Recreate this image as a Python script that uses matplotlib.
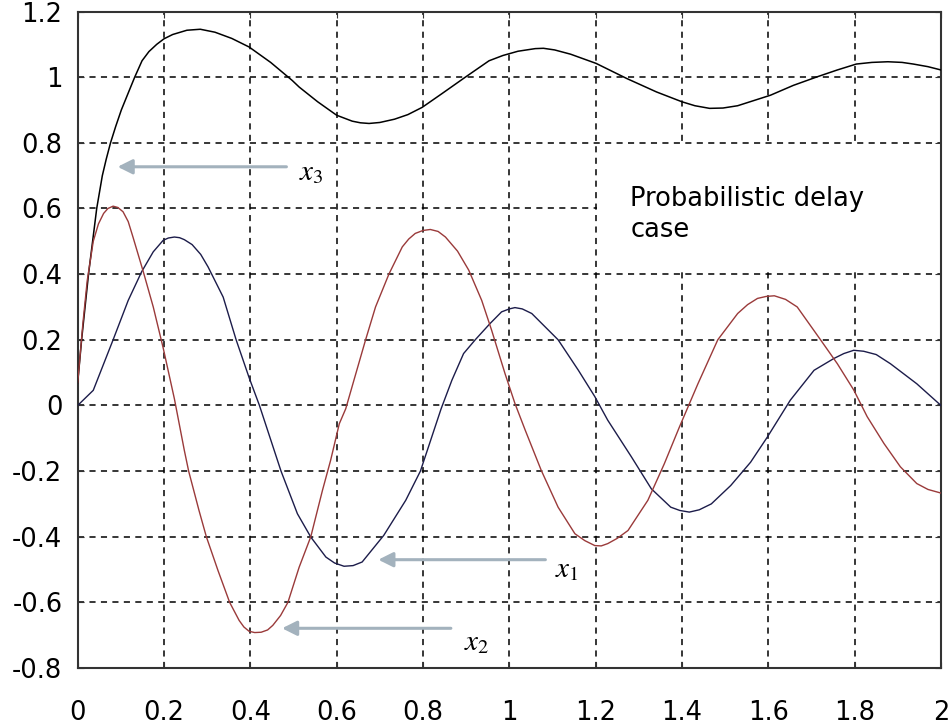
import numpy as np
import matplotlib
matplotlib.use("Agg")
import matplotlib.pyplot as plt
from matplotlib.patches import Rectangle

plt.rcParams['font.family'] = ['DejaVu Sans']
plt.rcParams['mathtext.fontset'] = 'stix'

# x3 (black)
x3_t = [0.0, 0.009, 0.025, 0.044, 0.057, 0.066, 0.076, 0.088, 0.101, 0.118, 0.132,
        0.149, 0.165, 0.183, 0.200, 0.220, 0.253, 0.284, 0.318, 0.357, 0.397, 0.447,
        0.497, 0.513, 0.556, 0.600, 0.636, 0.655, 0.675, 0.700, 0.734, 0.765, 0.798,
        0.844, 0.898, 0.953, 0.985, 1.020, 1.060, 1.079, 1.105, 1.142, 1.201, 1.272,
        1.341, 1.400, 1.430, 1.464, 1.495, 1.529, 1.605, 1.658, 1.713, 1.760, 1.804,
        1.840, 1.877, 1.910, 1.936, 1.970, 2.0]
x3_v = [0.07, 0.2, 0.40, 0.60, 0.70, 0.75, 0.80, 0.85, 0.90, 0.955, 1.0,
        1.05, 1.078, 1.10, 1.117, 1.13, 1.143, 1.146, 1.137, 1.118, 1.092, 1.045,
        0.99, 0.97, 0.925, 0.884, 0.866, 0.861, 0.859, 0.862, 0.872, 0.886, 0.908,
        0.95, 1.0, 1.05, 1.066, 1.079, 1.087, 1.088, 1.083, 1.07, 1.042, 0.996,
        0.955, 0.925, 0.913, 0.905, 0.906, 0.913, 0.945, 0.975, 1.001, 1.022, 1.04,
        1.045, 1.047, 1.045, 1.04, 1.032, 1.022]

# x1 (navy)
x1_t = [0.0, 0.036, 0.082, 0.117, 0.148, 0.175, 0.198, 0.210, 0.224, 0.236, 0.247,
        0.265, 0.285, 0.302, 0.337, 0.367, 0.397, 0.421, 0.471, 0.509, 0.540, 0.575,
        0.595, 0.617, 0.638, 0.659, 0.709, 0.760, 0.794, 0.842, 0.867, 0.894, 0.921,
        0.955, 0.982, 1.000, 1.013, 1.030, 1.052, 1.113, 1.160, 1.198, 1.228, 1.283,
        1.329, 1.374, 1.395, 1.417, 1.440, 1.468, 1.513, 1.559, 1.598, 1.651, 1.706,
        1.752, 1.775, 1.798, 1.821, 1.850, 1.883, 1.944, 2.0]
x1_v = [0.0, 0.046, 0.2, 0.32, 0.407, 0.468, 0.503, 0.510, 0.513, 0.511, 0.505,
        0.49, 0.46, 0.422, 0.33, 0.2, 0.085, 0.0, -0.2, -0.33, -0.401, -0.462,
        -0.48, -0.49, -0.488, -0.477, -0.396, -0.289, -0.2, -0.01, 0.077, 0.158, 0.2,
        0.249, 0.285, 0.294, 0.298, 0.294, 0.28, 0.2, 0.107, 0.027, -0.045, -0.157,
        -0.254, -0.31, -0.32, -0.325, -0.318, -0.3, -0.244, -0.173, -0.096, 0.016, 0.107,
        0.143, 0.158, 0.168, 0.165, 0.155, 0.127, 0.066, 0.0]

# x2 (red)
x2_t = [0.0, 0.012, 0.022, 0.036, 0.048, 0.060, 0.070, 0.082, 0.093, 0.105, 0.117,
        0.128, 0.152, 0.175, 0.198, 0.224, 0.247, 0.257, 0.281, 0.298, 0.325, 0.352,
        0.374, 0.385, 0.397, 0.410, 0.425, 0.440, 0.452, 0.470, 0.487, 0.513, 0.540,
        0.567, 0.586, 0.606, 0.621, 0.640, 0.667, 0.690, 0.721, 0.752, 0.767, 0.782,
        0.800, 0.817, 0.835, 0.852, 0.880, 0.906, 0.936, 0.959, 0.990, 1.013, 1.037,
        1.074, 1.113, 1.152, 1.175, 1.198, 1.213, 1.228, 1.250, 1.275, 1.321, 1.359,
        1.394, 1.437, 1.483, 1.529, 1.552, 1.575, 1.595, 1.614, 1.640, 1.667, 1.721,
        1.760, 1.798, 1.829, 1.868, 1.906, 1.944, 1.970, 2.0]
x2_v = [0.07, 0.25, 0.38, 0.5, 0.553, 0.585, 0.600, 0.607, 0.603, 0.59, 0.56,
        0.513, 0.407, 0.3, 0.175, 0.02, -0.137, -0.2, -0.32, -0.4, -0.503, -0.6,
        -0.655, -0.675, -0.688, -0.692, -0.691, -0.684, -0.67, -0.64, -0.6, -0.493, -0.4,
        -0.259, -0.167, -0.056, -0.01, 0.077, 0.2, 0.3, 0.4, 0.483, 0.507, 0.524,
        0.533, 0.536, 0.530, 0.513, 0.47, 0.412, 0.32, 0.229, 0.097, 0.006, -0.076,
        -0.198, -0.31, -0.391, -0.412, -0.427, -0.428, -0.421, -0.405, -0.381, -0.289, -0.178,
        -0.066, 0.066, 0.2, 0.28, 0.307, 0.326, 0.332, 0.334, 0.323, 0.3, 0.2,
        0.127, 0.047, -0.034, -0.116, -0.187, -0.238, -0.256, -0.267]

xticks = [0, 0.2, 0.4, 0.6, 0.8, 1.0, 1.2, 1.4, 1.6, 1.8, 2.0]
xlabels = ['0', '0.2', '0.4', '0.6', '0.8', '1', '1.2', '1.4', '1.6', '1.8', '2']
yticks = [-0.8, -0.6, -0.4, -0.2, 0, 0.2, 0.4, 0.6, 0.8, 1.0, 1.2]
ylabels = ['-0.8', '-0.6', '-0.4', '-0.2', '0', '0.2', '0.4', '0.6', '0.8', '1', '1.2']

fig = plt.figure(figsize=(9.49, 7.25), dpi=100)
ax = fig.add_axes([0.0819, 0.0786, 0.9096, 0.9055])

ax.plot(x3_t, x3_v, color='black', lw=1.1, zorder=3)
ax.plot(x1_t, x1_v, color='#1c1c4a', lw=1.0, zorder=3)
ax.plot(x2_t, x2_v, color='#9a3a3a', lw=1.0, zorder=3)

ax.set_xlim(0, 2)
ax.set_ylim(-0.8, 1.2)
ax.set_xticks(xticks)
ax.set_xticklabels(xlabels)
ax.set_yticks(yticks)
ax.set_yticklabels(ylabels)
ax.tick_params(direction='in', length=4, top=True, right=True, labelsize=18.5, color='#333333')
ax.tick_params(axis='x', pad=23)
ax.tick_params(axis='y', pad=11)

ax.grid(True, color='black', linestyle=(0, (4, 3.5)), lw=1.1)
for s in ax.spines.values():
    s.set_color('#333333')
    s.set_linewidth(1.5)

# white box behind the note hides the grid there
ax.add_patch(Rectangle((1.203, 0.405), 0.797, 0.39, facecolor='white', edgecolor='none', zorder=1.8))
ax.text(1.28, 0.512, 'Probabilistic delay\ncase', fontsize=18.5, ha='left', va='baseline',
        linespacing=1.25, zorder=4)

arrow_col = '#a3b2bd'
arrows = [((0.490, 0.727), (0.086, 0.727), r'$x_3$', (0.512, 0.712)),
          ((1.090, -0.470), (0.690, -0.470), r'$x_1$', (1.105, -0.499)),
          ((0.871, -0.679), (0.467, -0.679), r'$x_2$', (0.894, -0.720))]
for tail, head, lab, pos in arrows:
    ax.annotate('', xy=head, xytext=tail,
                arrowprops=dict(arrowstyle='-|>', color=arrow_col, lw=2.2, mutation_scale=22),
                zorder=4)
    ax.text(pos[0], pos[1], lab, fontsize=21, ha='left', va='center', zorder=4)

fig.savefig('out.png', dpi=100)
